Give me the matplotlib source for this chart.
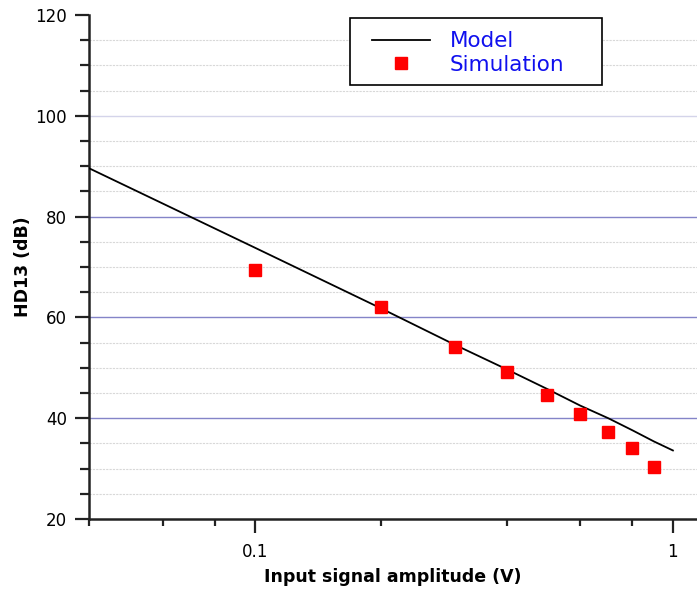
import matplotlib
matplotlib.use("Agg")
import matplotlib.pyplot as plt
from matplotlib.patches import Rectangle
from matplotlib.ticker import FixedLocator, FixedFormatter, MultipleLocator, NullFormatter

# Model curve (dB) versus input amplitude (V)
model_x = [0.04, 0.1, 0.2, 0.3, 0.4, 0.5, 0.6, 0.7, 0.8, 0.9, 1.0]
model_y = [89.6, 73.8, 61.8, 54.6, 49.7, 45.8, 42.5, 40.0, 37.6, 35.4, 33.6]

# Simulated HD13 points
sim_x = [0.1, 0.2, 0.3, 0.4, 0.5, 0.6, 0.7, 0.8, 0.9]
sim_y = [69.4, 62.1, 54.1, 49.2, 44.6, 40.8, 37.3, 34.1, 30.3]

x_major = [0.1, 1]
x_major_labels = ["0.1", "1"]
x_minor = [0.04, 0.06, 0.08, 0.2, 0.4, 0.6, 0.8]

W, H = 697, 589
fig = plt.figure(figsize=(W / 100, H / 100), dpi=100)
ax = fig.add_axes([89 / W, 1 - 519 / H, 1 - 89 / W, (519 - 15) / H])

ax.set_xscale("log")
ax.set_xlim(0.04, 1.142)
ax.set_ylim(20, 120)

ax.plot(model_x, model_y, color="black", lw=1.3, label="Model", zorder=3)
ax.plot(sim_x, sim_y, ls="none", marker="s", ms=9, color="#ff0000",
        mec="#ff0000", label="Simulation", zorder=4)

ax.xaxis.set_major_locator(FixedLocator(x_major))
ax.xaxis.set_major_formatter(FixedFormatter(x_major_labels))
ax.xaxis.set_minor_locator(FixedLocator(x_minor))
ax.xaxis.set_minor_formatter(NullFormatter())
ax.yaxis.set_major_locator(MultipleLocator(20))
ax.yaxis.set_minor_locator(MultipleLocator(5))

px = 72 / 100  # points per pixel
ax.tick_params(axis="x", which="major", direction="out", length=14 * px, width=1.6,
               color="#222222", labelsize=12, pad=10 * px)
ax.tick_params(axis="y", which="major", direction="out", length=14 * px, width=1.6,
               color="#222222", labelsize=12, pad=8 * px)
ax.tick_params(axis="y", which="minor", direction="out", length=9 * px, width=1.6, color="#222222")
ax.tick_params(axis="x", which="minor", direction="out", length=7 * px, width=1.6, color="#222222")

for side in ("top", "right"):
    ax.spines[side].set_visible(False)
for side in ("left", "bottom"):
    ax.spines[side].set_linewidth(1.8)
    ax.spines[side].set_color("#222222")

# Horizontal grid: solid majors, dotted minors
ax.yaxis.grid(True, which="minor", color="#d8d8d8", lw=0.8, ls=(0, (2, 1)), zorder=1)
for yv in (40, 60, 80):
    ax.axhline(yv, color="#8484c8", lw=1.0, zorder=1)
ax.axhline(100, color="#d4d4ea", lw=1.0, zorder=1)
ax.set_axisbelow(True)

ax.set_xlabel("Input signal amplitude (V)", fontsize=12.5, fontweight="bold", labelpad=5)
ax.set_ylabel("HD13 (dB)", fontsize=12.5, fontweight="bold", labelpad=2)

# Legend entries without frame, boxed by a separate rectangle
anchor = fig.transFigure.inverted().transform((372, H - 53))
leg = ax.legend(loc="center left", bbox_to_anchor=tuple(anchor),
                bbox_transform=fig.transFigure,
                fontsize=15.5, frameon=False,
                handlelength=2.7, handletextpad=0.9, borderpad=0,
                labelspacing=0.15, borderaxespad=0)
leg.set_zorder(6)
for t in leg.get_texts():
    t.set_color("#1010ee")
box = Rectangle((350 / W, 1 - 85 / H), (602 - 350) / W, (85 - 18) / H,
                transform=fig.transFigure, facecolor="white",
                edgecolor="black", lw=1.2, zorder=5, clip_on=False)
ax.add_patch(box)

fig.savefig("out.png", dpi=100)
